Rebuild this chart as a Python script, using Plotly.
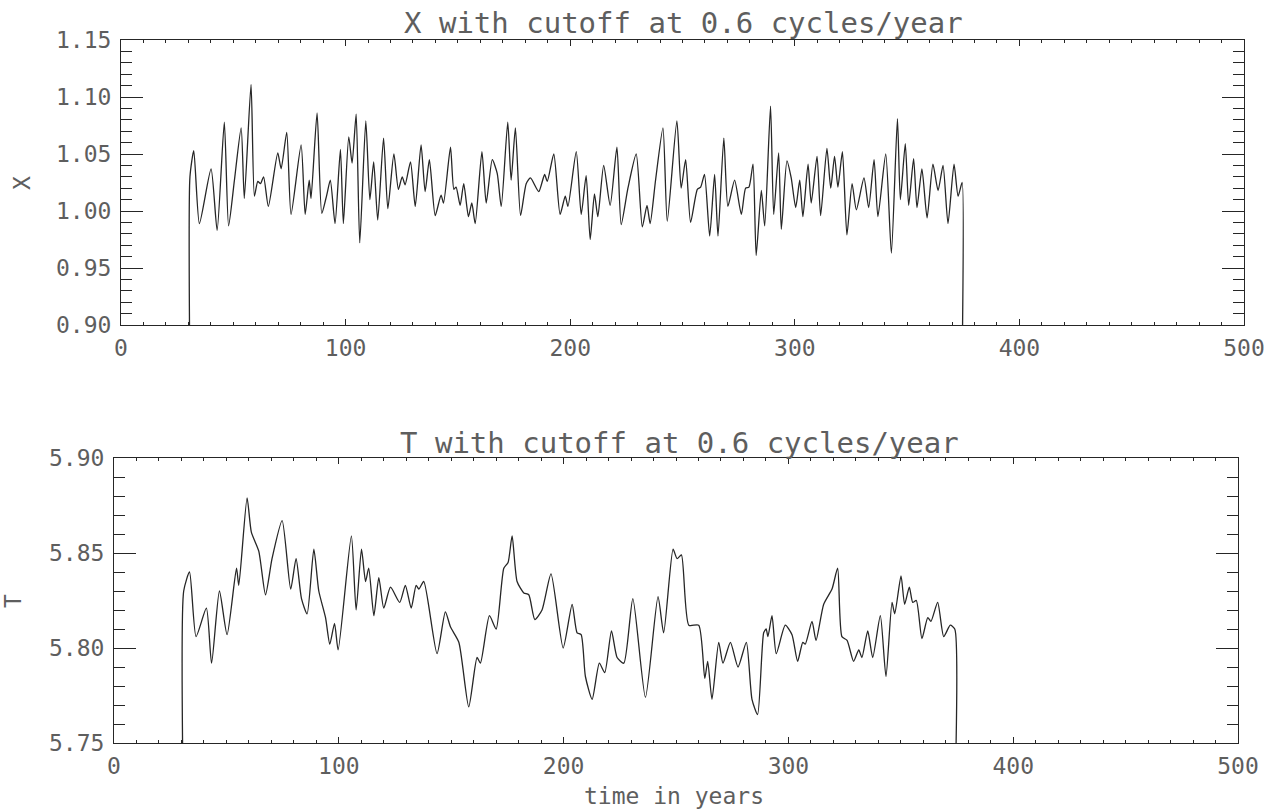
import plotly.graph_objects as go

# ---- filtered series (turning points of each curve, year -> value) ----
x_years = [30.5, 30.7, 32.4, 34.9, 40.1, 42.8, 46.0, 47.9, 50.5, 53.5, 54.9, 57.9, 59.4, 60.9, 62.1,
           63.5, 65.6, 69.8, 71.3, 73.8, 75.7, 80.2, 82.0, 83.8, 84.6, 87.3, 89.4, 91.6, 93.2,
           95.3, 97.7, 99.0, 101.4, 102.9, 104.7, 106.3, 109.0, 110.8, 112.5, 114.3, 116.9,
           118.8, 121.5, 123.5, 125.2, 126.5, 128.9, 131.0, 133.6, 135.4, 137.3, 139.9, 142.5,
           143.6, 146.7, 148.2, 149.2, 151.0, 152.6, 154.7, 156.2, 157.7, 160.7, 162.6, 165.3,
           167.5, 169.3, 172.2, 173.7, 175.6, 177.9, 180.4, 182.3, 186.0, 188.6, 189.8, 192.7,
           195.5, 197.8, 199.0, 202.7, 204.9, 207.1, 208.9, 210.8, 212.3, 214.9, 217.8, 220.8,
           222.7, 225.7, 229.4, 232.1, 234.2, 235.6, 238.0, 241.3, 243.2, 247.5, 249.4, 251.4,
           253.6, 256.6, 258.1, 259.8, 262.1, 264.3, 265.8, 268.4, 270.2, 273.2, 276.2, 278.1,
           279.6, 281.4, 282.8, 285.1, 286.6, 289.2, 290.6, 292.8, 294.0, 296.5, 298.4, 300.4,
           302.2, 303.6, 305.9, 307.3, 309.9, 311.5, 314.3, 316.0, 317.7, 319.2, 321.2, 323.2,
           325.5, 327.4, 330.8, 332.9, 335.3, 337.0, 340.5, 343.0, 345.7, 347.0, 349.2, 350.7,
           352.9, 354.4, 356.6, 358.9, 361.5, 363.8, 366.0, 368.2, 370.9, 372.7, 374.5, 374.7]
x_vals = [0.900, 1.030, 1.053, 0.989, 1.037, 0.983, 1.078, 0.987, 1.027, 1.073, 1.011, 1.111, 1.013,
          1.026, 1.024, 1.030, 1.004, 1.051, 1.037, 1.069, 0.997, 1.058, 0.997, 1.027, 1.011,
          1.086, 0.998, 1.014, 1.027, 0.989, 1.054, 0.989, 1.065, 1.042, 1.085, 0.972, 1.079,
          1.010, 1.043, 0.992, 1.064, 1.002, 1.050, 1.019, 1.030, 1.023, 1.043, 1.004, 1.058,
          1.017, 1.045, 0.996, 1.014, 1.007, 1.056, 1.019, 1.021, 1.005, 1.024, 0.995, 1.007,
          0.989, 1.052, 1.007, 1.045, 1.033, 1.004, 1.078, 1.027, 1.073, 0.996, 1.024, 1.029,
          1.017, 1.032, 1.026, 1.050, 0.997, 1.013, 1.004, 1.052, 0.997, 1.031, 0.975, 1.015,
          0.995, 1.040, 1.005, 1.056, 0.988, 1.020, 1.050, 0.986, 1.005, 0.989, 1.027, 1.073,
          0.991, 1.079, 1.020, 1.045, 0.990, 1.019, 1.021, 1.032, 0.978, 1.032, 0.978, 1.064,
          1.004, 1.027, 0.997, 1.020, 1.021, 1.041, 0.961, 1.018, 0.987, 1.092, 0.997, 1.051,
          0.984, 1.044, 1.029, 1.003, 1.027, 0.995, 1.041, 1.007, 1.048, 0.996, 1.055, 1.020,
          1.048, 1.021, 1.052, 0.979, 1.024, 1.001, 1.029, 1.003, 1.045, 0.995, 1.050, 0.963,
          1.081, 1.010, 1.059, 1.005, 1.046, 1.003, 1.037, 0.994, 1.041, 1.018, 1.040, 0.989,
          1.041, 1.013, 1.025, 0.900]

t_years = [30.5, 31.0, 33.6, 36.5, 41.1, 43.4, 46.9, 50.3, 54.5, 55.5, 59.2, 61.1, 64.4, 67.4, 70.3,
           74.8, 78.6, 81.0, 83.4, 85.9, 88.9, 91.1, 94.1, 96.0, 98.1, 99.7, 105.6, 107.7, 110.1,
           111.9, 113.3, 115.6, 117.8, 120.0, 123.0, 127.1, 129.6, 132.2, 134.4, 135.6, 137.8,
           143.7, 147.4, 149.7, 153.4, 157.8, 161.5, 163.0, 167.0, 170.0, 173.4, 175.3, 177.1,
           179.3, 182.3, 184.5, 187.2, 190.4, 194.4, 199.8, 203.8, 206.0, 207.8, 209.7, 212.7,
           215.9, 218.3, 221.3, 223.8, 226.8, 230.8, 236.4, 242.0, 244.5, 248.7, 250.5, 252.4,
           255.7, 260.1, 262.8, 264.1, 266.0, 269.0, 270.9, 274.2, 277.6, 281.3, 283.8, 286.3,
           289.0, 290.1, 290.9, 292.7, 294.6, 298.6, 301.6, 304.1, 306.4, 307.5, 310.5, 312.3,
           315.7, 319.4, 321.9, 323.8, 326.1, 329.0, 331.3, 332.7, 335.3, 337.5, 340.9, 343.4,
           346.1, 347.3, 350.1, 351.7, 353.8, 355.3, 356.9, 359.4, 362.0, 363.4, 366.4, 369.1,
           372.0, 374.0, 374.6]
t_vals = [5.750, 5.830, 5.840, 5.806, 5.821, 5.792, 5.830, 5.807, 5.842, 5.833, 5.879, 5.861, 5.851,
          5.828, 5.847, 5.867, 5.831, 5.847, 5.826, 5.818, 5.852, 5.830, 5.816, 5.802, 5.813,
          5.799, 5.859, 5.820, 5.852, 5.835, 5.842, 5.817, 5.837, 5.821, 5.832, 5.824, 5.833,
          5.821, 5.833, 5.831, 5.835, 5.797, 5.819, 5.811, 5.803, 5.769, 5.795, 5.792, 5.817,
          5.810, 5.842, 5.845, 5.859, 5.835, 5.829, 5.828, 5.815, 5.820, 5.839, 5.800, 5.823,
          5.808, 5.807, 5.785, 5.773, 5.792, 5.787, 5.809, 5.795, 5.792, 5.826, 5.774, 5.827,
          5.808, 5.852, 5.847, 5.849, 5.812, 5.812, 5.784, 5.793, 5.773, 5.803, 5.792, 5.803,
          5.790, 5.803, 5.773, 5.765, 5.808, 5.810, 5.806, 5.817, 5.797, 5.812, 5.807, 5.793,
          5.803, 5.802, 5.814, 5.804, 5.823, 5.831, 5.842, 5.806, 5.804, 5.793, 5.799, 5.795,
          5.809, 5.795, 5.817, 5.785, 5.824, 5.818, 5.838, 5.823, 5.832, 5.824, 5.825, 5.805,
          5.816, 5.814, 5.824, 5.806, 5.812, 5.810, 5.750]

x_title = "X with cutoff at 0.6 cycles/year"
t_title = "T with cutoff at 0.6 cycles/year"
time_label = "time in years"

W, H = 1274, 811
FONT = "DejaVu Sans Mono"
TXT = "#5e5e5e"
INK = "#262626"


def px(x):
    return x / W


def py(y):
    return 1 - y / H


line_style = dict(color=INK, width=1.3, shape="spline", smoothing=0.6)

fig = go.Figure()
fig.add_trace(go.Scatter(x=x_years, y=x_vals, mode="lines", line=line_style,
                         xaxis="x", yaxis="y", showlegend=False))
fig.add_trace(go.Scatter(x=t_years, y=t_vals, mode="lines", line=line_style,
                         xaxis="x2", yaxis="y2", showlegend=False))

tick_font = dict(family=FONT, size=23, color=TXT)


def xaxis_cfg(domain, anchor):
    return dict(domain=domain, anchor=anchor, range=[0, 500], tick0=0, dtick=100,
                ticks="inside", ticklen=6, tickwidth=1, tickcolor=INK,
                minor=dict(dtick=10, ticks="inside", ticklen=3, tickcolor=INK, tickwidth=1),
                showline=True, linecolor=INK, linewidth=1, mirror="ticks",
                showgrid=False, zeroline=False, tickfont=tick_font,
                ticklabelstandoff=2, automargin=False)


def yaxis_cfg(domain, anchor, rng, fmt):
    return dict(domain=domain, anchor=anchor, range=rng, dtick=0.05, tick0=rng[0],
                tickformat=fmt, ticks="inside", ticklen=22, tickwidth=1, tickcolor=INK,
                minor=dict(dtick=0.01, ticks="inside", ticklen=11, tickcolor=INK, tickwidth=1),
                showline=True, linecolor=INK, linewidth=1, mirror="ticks",
                showgrid=False, zeroline=False, tickfont=tick_font,
                ticklabelstandoff=4, automargin=False)


def label(text, x, y, size, angle=0):
    return dict(text=text, x=px(x), y=py(y), xref="paper", yref="paper",
                xanchor="center", yanchor="middle", textangle=angle,
                showarrow=False, font=dict(family=FONT, size=size, color=TXT))


fig.update_layout(
    template="none",
    width=W, height=H, autosize=False,
    margin=dict(l=0, r=0, t=0, b=0, pad=0),
    paper_bgcolor="white", plot_bgcolor="white",
    xaxis=xaxis_cfg([px(121), px(1244)], "y"),
    yaxis=yaxis_cfg([py(325), py(40)], "x", [0.90, 1.15], ".2f"),
    xaxis2=xaxis_cfg([px(114), px(1238)], "y2"),
    yaxis2=yaxis_cfg([py(743), py(458)], "x2", [5.75, 5.90], ".2f"),
    annotations=[
        label(x_title, 683, 23, 29),
        label(t_title, 679, 443, 29),
        label(time_label, 674, 796, 23),
        label("X", 22, 183, 23, -90),
        label("T", 13, 601, 23, -90),
    ],
)

fig.write_html("out.html")
